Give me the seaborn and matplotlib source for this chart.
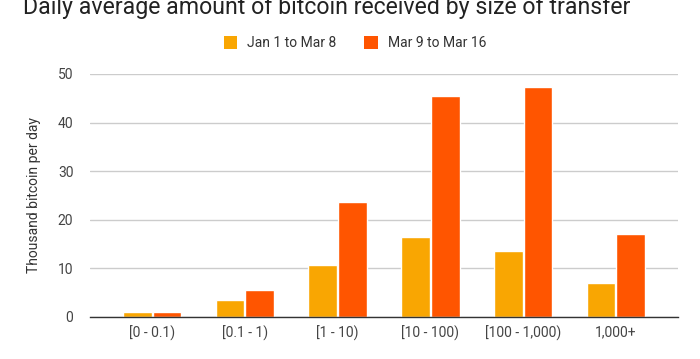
import pandas as pd
import matplotlib.pyplot as plt
import seaborn as sns
from matplotlib.patches import Patch

# Data (thousand bitcoin per day)
categories = ['[0 - 0.1)', '[0.1 - 1)', '[1 - 10)', '[10 - 100)', '[100 - 1,000)', '1,000+']
before = [1.0, 3.5, 10.7, 16.5, 13.6, 7.0]
after = [1.0, 5.5, 23.7, 45.5, 47.3, 17.0]
series_names = ['Jan 1 to Mar 8', 'Mar 9 to Mar 16']
colors = ['#F9A602', '#FF5500']

df = pd.DataFrame({
    'size': categories * 2,
    'value': before + after,
    'period': [series_names[0]] * len(categories) + [series_names[1]] * len(categories),
})

sns.set_theme(style='white')
plt.rcParams['font.family'] = ['Roboto', 'DejaVu Sans']

fig = plt.figure(figsize=(7, 3.59), dpi=100)
ax = fig.add_axes([0.1286, 0.117, 0.84, 0.677])

sns.barplot(data=df, x='size', y='value', hue='period', order=categories,
            hue_order=series_names, palette=colors, width=0.64, gap=0.03,
            saturation=1, legend=False, ax=ax)

ax.set_ylim(0, 50)
ax.set_xlim(-0.67, 5.67)
ax.set_yticks([0, 10, 20, 30, 40, 50])
ax.yaxis.grid(True, color='#cccccc', linewidth=1)
ax.set_axisbelow(True)
for side in ['top', 'right', 'left']:
    ax.spines[side].set_visible(False)
ax.spines['bottom'].set_color('#333333')
ax.spines['bottom'].set_linewidth(1)
ax.tick_params(axis='both', length=0, labelsize=10, colors='#444444', pad=6)
ax.tick_params(axis='y', pad=12)
ax.set_xlabel('')
ax.set_ylabel('Thousand bitcoin per day', fontsize=10, color='#333333', labelpad=12)

fig.text(0.033, 0.961, 'Daily average amount of bitcoin received by size of transfer',
         fontsize=16.7, color='#222222', va='baseline', ha='left')

handles = [Patch(facecolor=c, edgecolor='none') for c in colors]
fig.legend(handles, series_names, loc='center', bbox_to_anchor=(0.507, 0.88),
           ncol=2, frameon=False, fontsize=10, handlelength=1, handleheight=1,
           handletextpad=0.7, columnspacing=2.0, labelcolor='#333333')

fig.savefig('out.png', dpi=100)
